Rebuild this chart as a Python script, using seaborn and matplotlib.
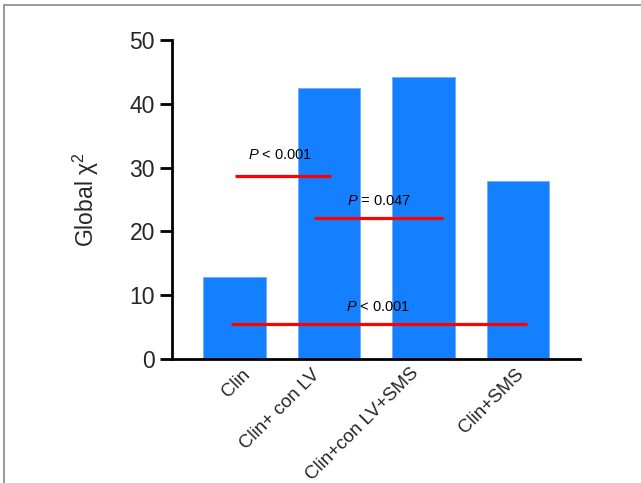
import matplotlib
matplotlib.use("Agg")
import matplotlib.pyplot as plt
from matplotlib.lines import Line2D
from matplotlib.transforms import ScaledTranslation
import seaborn as sns

categories = ["Clin", "Clin+ con LV", "Clin+con LV+SMS", "Clin+SMS"]
chi2_values = [12.8, 42.5, 44.2, 27.9]
yticks = [0, 10, 20, 30, 40, 50]

comp_labels = ["$P$ < 0.001", "$P$ = 0.047", "$P$ < 0.001"]
comp_levels = [28.7, 22.05, 5.44]
comp_x_start = [0.0, 0.84, -0.04]
comp_x_end = [1.02, 2.21, 3.09]
comp_label_x = [0.48, 1.53, 1.52]
comp_label_y = [32.0, 24.7, 8.2]

# small hand nudges of the rotated category labels (pixels)
label_nudge_px = [(7, 0), (-18, 0), (-13, 1), (-3, 0)]

sns.set_theme(style="white")
plt.rcParams["font.family"] = ["Liberation Sans", "DejaVu Sans"]
plt.rcParams["mathtext.fontset"] = "custom"
plt.rcParams["mathtext.rm"] = "Liberation Sans"
plt.rcParams["mathtext.it"] = "Liberation Sans:italic"
plt.rcParams["mathtext.bf"] = "Liberation Sans:bold"

fig = plt.figure(figsize=(6.41, 4.83), dpi=100)
ax = fig.add_axes([0.2683, 0.2567, 0.9048 - 0.2683, 0.9172 - 0.2567])

sns.barplot(x=categories, y=chi2_values, color="#1580FF", saturation=1,
            width=0.663, edgecolor="#6AAEFF", linewidth=0.6, ax=ax)

for lab, lvl, x0, x1, lx, ly in zip(comp_labels, comp_levels, comp_x_start,
                                    comp_x_end, comp_label_x, comp_label_y):
    ax.plot([x0, x1], [lvl, lvl], color="#FF0000", lw=2.3, solid_capstyle="butt", zorder=5)
    ax.text(lx, ly, lab, ha="center", va="center", fontsize=10.5, color="black", zorder=6)

ax.set_xlim(-0.663, 3.655)
ax.set_ylim(0, 50)
ax.set_yticks(yticks)
ax.set_yticklabels([str(t) for t in yticks], fontsize=16.5)
ax.set_ylabel("Global χ$^2$", fontsize=16.5, labelpad=20)
ax.set_xlabel("")
ax.tick_params(axis="y", length=8.4, width=2, color="black", pad=4, left=True)
ax.tick_params(axis="x", length=0, pad=5)
for lbl, (dx, dy) in zip(ax.get_xticklabels(), label_nudge_px):
    lbl.set_rotation(45)
    lbl.set_ha("right")
    lbl.set_rotation_mode("anchor")
    lbl.set_fontsize(13.5)
    lbl.set_transform(lbl.get_transform() +
                      ScaledTranslation(dx / 100, dy / 100, fig.dpi_scale_trans))
for s in ["top", "right"]:
    ax.spines[s].set_visible(False)
for s in ["left", "bottom"]:
    ax.spines[s].set_linewidth(2)
    ax.spines[s].set_color("black")

fig.add_artist(Line2D([4 / 641, 4 / 641], [0, 1 - 5 / 483], transform=fig.transFigure,
                      color="#8a8a8a", lw=1.2))
fig.add_artist(Line2D([4 / 641, 1], [1 - 5 / 483, 1 - 5 / 483], transform=fig.transFigure,
                      color="#8a8a8a", lw=1.2))

fig.savefig("out.png", dpi=100)
